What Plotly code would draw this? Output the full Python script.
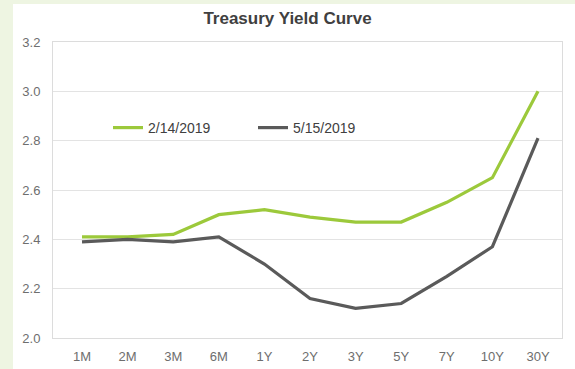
import plotly.graph_objects as go

categories = ["1M", "2M", "3M", "6M", "1Y", "2Y", "3Y", "5Y", "7Y", "10Y", "30Y"]
yield_feb = [2.41, 2.41, 2.42, 2.50, 2.52, 2.49, 2.47, 2.47, 2.55, 2.65, 3.00]
yield_may = [2.39, 2.40, 2.39, 2.41, 2.30, 2.16, 2.12, 2.14, 2.25, 2.37, 2.81]
series_names = ["2/14/2019", "5/15/2019"]
y_ticks = [2.0, 2.2, 2.4, 2.6, 2.8, 3.0, 3.2]

W, H = 575, 369
L, R, T, B = 53, 13, 42, 31
pw, ph = W - L - R, H - T - B

def px_x(p):
    return (p - L) / pw

def px_y(p):
    return (H - B - p) / ph

fig = go.Figure()
fig.add_trace(go.Scatter(x=categories, y=yield_feb, name=series_names[0], mode="lines",
                         line=dict(color="#9cc93b", width=3.2)))
fig.add_trace(go.Scatter(x=categories, y=yield_may, name=series_names[1], mode="lines",
                         line=dict(color="#5a5a5a", width=3.2)))

fig.add_shape(type="rect", xref="paper", yref="paper",
              x0=px_x(13), x1=px_x(W + 2), y0=px_y(H + 2), y1=px_y(4),
              fillcolor="white", line=dict(width=0), layer="below")

fig.update_layout(
    width=W, height=H,
    margin=dict(l=L, r=R, t=T, b=B, autoexpand=False),
    paper_bgcolor="#eef5e2",
    plot_bgcolor="white",
    font=dict(family="Liberation Sans, Arial, sans-serif", color="#6e6e6e", size=13),
    title=dict(text="<b>Treasury Yield Curve</b>", xref="container", x=0.5, xanchor="center",
               yref="container", y=1 - 18 / H, yanchor="middle", automargin=False,
               font=dict(size=17, color="#404040")),
    showlegend=True,
    legend=dict(orientation="h", x=px_x(108), xanchor="left", y=px_y(128), yanchor="middle",
                bgcolor="rgba(0,0,0,0)", font=dict(size=14, color="#404040"),
                entrywidth=100, entrywidthmode="pixels"),
    xaxis=dict(type="category", range=[-0.636, 10.526], showgrid=False, zeroline=False,
               showline=True, linecolor="#dcdcdc", linewidth=1, mirror=True, automargin=False,
               ticks="", ticklabelstandoff=6, tickfont=dict(size=13, color="#6e6e6e")),
    yaxis=dict(range=[2.0, 3.2], tickvals=y_ticks, tickformat=".1f", showgrid=True,
               gridcolor="#e3e3e3", gridwidth=1, zeroline=False, automargin=False,
               showline=True, linecolor="#dcdcdc", linewidth=1, mirror=True,
               ticks="", ticklabelstandoff=9, tickfont=dict(size=13, color="#6e6e6e")),
)

fig.write_html("out.html")
